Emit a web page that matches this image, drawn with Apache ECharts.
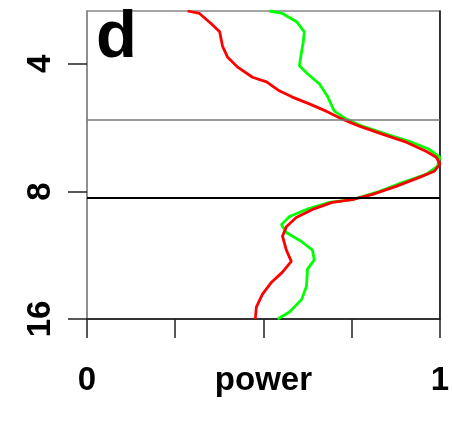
<!DOCTYPE html>
<html>
<head>
<meta charset="utf-8">
<script src="https://cdn.jsdelivr.net/npm/echarts@6/dist/echarts.min.js"></script>
<style>
  html, body { margin: 0; padding: 0; background: #fff; }
  #chart { width: 452px; height: 432px; }
</style>
</head>
<body>
<div id="chart"></div>
<script>
// power (x) against period (y, log scale, upside down)
const redPower = [0.285, 0.319, 0.353, 0.376, 0.384, 0.398, 0.427, 0.469, 0.509, 0.545, 0.582, 0.630, 0.678, 0.724, 0.772, 0.837, 0.905, 0.961, 0.990, 1.0, 0.984, 0.942, 0.876, 0.809, 0.752, 0.695, 0.639, 0.593, 0.565, 0.554, 0.565, 0.579, 0.554, 0.523, 0.497, 0.480, 0.477];
const redPeriod = [3.0, 3.04, 3.22, 3.36, 3.63, 3.85, 4.07, 4.30, 4.41, 4.63, 4.79, 4.97, 5.17, 5.40, 5.61, 5.86, 6.12, 6.43, 6.64, 6.90, 7.17, 7.41, 7.78, 8.13, 8.36, 8.49, 8.82, 9.22, 9.69, 10.2, 11.0, 11.7, 12.4, 13.1, 14.0, 15.0, 16.0];

const greenPower = [0.517, 0.554, 0.594, 0.616, 0.613, 0.608, 0.602, 0.625, 0.659, 0.681, 0.701, 0.735, 0.780, 0.848, 0.913, 0.970, 1.0, 0.993, 0.961, 0.893, 0.828, 0.752, 0.687, 0.622, 0.574, 0.551, 0.565, 0.608, 0.639, 0.644, 0.625, 0.622, 0.608, 0.574, 0.540];
const greenPeriod = [3.0, 3.04, 3.18, 3.36, 3.55, 3.75, 4.04, 4.22, 4.46, 4.76, 5.17, 5.40, 5.61, 5.86, 6.09, 6.36, 6.64, 6.98, 7.29, 7.62, 8.0, 8.36, 8.49, 8.82, 9.17, 9.58, 10.0, 10.5, 11.0, 11.6, 12.2, 13.4, 14.4, 15.4, 16.0];

const periodTicks = [4, 8, 16];
const powerLabels = { 0: "0", 1: "1" };
const greyLine = 5.43;
const blackLine = 8.3;

const font = "'Liberation Sans', Arial, sans-serif";

function pairs(xs, ys) {
  return xs.map((x, i) => [x, ys[i]]);
}

const chart = echarts.init(document.getElementById("chart"));
chart.setOption({
  animation: false,
  title: {
    text: "d",
    left: 96,
    top: 5,
    padding: 0,
    textStyle: { fontFamily: font, fontSize: 67, fontWeight: "bold", color: "#000" }
  },
  grid: {
    left: 87, right: 12, top: 11, bottom: 113,
    show: true, borderColor: "#888", borderWidth: 1.5
  },
  xAxis: {
    type: "value",
    min: 0, max: 1, interval: 0.25,
    name: "power",
    nameLocation: "middle",
    nameGap: 45,
    nameMoveOverlap: false,
    nameTextStyle: { fontFamily: font, fontSize: 33, fontWeight: "bold", color: "#000", verticalAlign: "top" },
    axisLine: { show: true, lineStyle: { color: "#111", width: 1.5 } },
    axisTick: { show: true, inside: false, length: 19, lineStyle: { color: "#222", width: 1.5 } },
    axisLabel: {
      margin: 45,
      fontFamily: font, fontSize: 33, fontWeight: "bold", color: "#000",
      verticalAlign: "top",
      formatter: (v) => powerLabels[v] || ""
    },
    splitLine: { show: false }
  },
  yAxis: [{
    type: "log",
    logBase: 2,
    min: 3, max: 16,
    inverse: true,
    axisLine: { show: true, lineStyle: { color: "#888", width: 1.5 } },
    axisTick: { show: true, inside: false, length: 19, customValues: periodTicks, lineStyle: { color: "#222", width: 1.5 } },
    axisLabel: {
      rotate: 90,
      margin: 30,
      customValues: periodTicks,
      fontFamily: font, fontSize: 33, fontWeight: "bold", color: "#000"
    },
    splitLine: { show: false }
  }, {
    type: "value",
    position: "right",
    min: 0, max: 1,
    axisLine: { show: true, lineStyle: { color: "#111", width: 1.5 } },
    axisTick: { show: false },
    axisLabel: { show: false },
    splitLine: { show: false }
  }],
  series: [{
    type: "line",
    data: pairs(greenPower, greenPeriod),
    showSymbol: false,
    lineStyle: { color: "#00ff00", width: 2.8 },
    markLine: {
      silent: true,
      symbol: "none",
      label: { show: false },
      data: [
        { yAxis: greyLine, lineStyle: { color: "#777", width: 1.5, type: "solid" } },
        { yAxis: blackLine, lineStyle: { color: "#000", width: 2, type: "solid" } }
      ]
    }
  }, {
    type: "line",
    data: pairs(redPower, redPeriod),
    showSymbol: false,
    lineStyle: { color: "#ff0000", width: 2.8 }
  }]
});
</script>
</body>
</html>
